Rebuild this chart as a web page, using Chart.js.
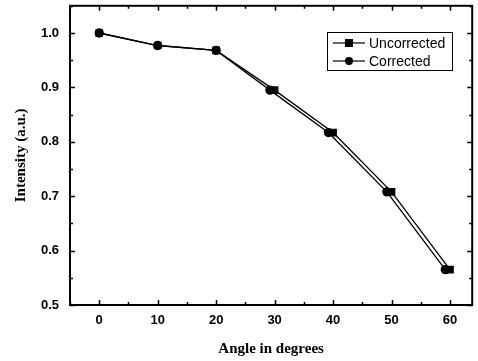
<!DOCTYPE html>
<html>
<head>
<meta charset="utf-8">
<script src="https://cdn.jsdelivr.net/npm/chart.js@4"></script>
<style>
  html, body { margin: 0; padding: 0; background: #fff; }
  #wrap { width: 478px; height: 361px; }
</style>
</head>
<body>
<div id="wrap"><canvas id="chart" width="478" height="361"></canvas></div>
<script>
// values
const angles = [0, 10, 20, 30, 40, 50, 60];
const uncorrected = [1.0, 0.977, 0.968, 0.895, 0.817, 0.708, 0.565];
const correctedAngles = [0, 10, 20, 29.2, 39.2, 49.2, 59.2];
const corrected = [1.0, 0.977, 0.968, 0.895, 0.817, 0.708, 0.565];
const seriesNames = ["Uncorrected", "Corrected"];

const toPoints = (xs, ys) => xs.map((x, i) => ({ x: x, y: ys[i] }));

// frame + inward ticks on all four sides, minor ticks halfway
const framePlugin = {
    id: "frame",
    afterDraw(chart) {
        const ctx = chart.ctx;
        const a = chart.chartArea;
        const xs = chart.scales.x, ys = chart.scales.y;
        ctx.save();
        ctx.strokeStyle = "#000";
        ctx.lineWidth = 1.5;
        for (let v = -5; v <= 63.8; v += 5) {
            const px = Math.round(xs.getPixelForValue(v)) + 0.5;
            const len = v % 10 === 0 ? 5 : 3;
            ctx.beginPath();
            ctx.moveTo(px, a.bottom); ctx.lineTo(px, a.bottom - len);
            ctx.moveTo(px, a.top); ctx.lineTo(px, a.top + len);
            ctx.stroke();
        }
        for (let i = 0; i <= 11; i++) {
            const v = 0.5 + i * 0.05;
            const py = Math.round(ys.getPixelForValue(v)) + 0.5;
            const len = i % 2 === 0 ? 5 : 3;
            ctx.beginPath();
            ctx.moveTo(a.left, py); ctx.lineTo(a.left + len, py);
            ctx.moveTo(a.right, py); ctx.lineTo(a.right - len, py);
            ctx.stroke();
        }
        ctx.lineWidth = 2;
        ctx.strokeRect(a.left, a.top, a.right - a.left, a.bottom - a.top);

        // legend box
        const bx = 327, by = 32, bw = 125, bh = 38;
        ctx.lineWidth = 1;
        ctx.strokeRect(bx + 0.5, by + 0.5, bw, bh);
        ctx.font = "14px 'Liberation Sans', Arial, sans-serif";
        ctx.textBaseline = "middle";
        ctx.fillStyle = "#000";
        [43, 61].forEach((ly, i) => {
            ctx.lineWidth = 1.2;
            ctx.beginPath();
            ctx.moveTo(333, ly); ctx.lineTo(365, ly);
            ctx.stroke();
            if (i === 0) {
                ctx.fillRect(345, ly - 4, 8, 8);
            } else {
                ctx.beginPath();
                ctx.arc(349, ly, 4, 0, Math.PI * 2);
                ctx.fill();
            }
            ctx.fillText(seriesNames[i], 369, ly + 1);
        });
        ctx.restore();
    }
};

new Chart(document.getElementById("chart"), {
    type: "scatter",
    data: {
        datasets: [
            {
                label: seriesNames[1],
                data: toPoints(correctedAngles, corrected),
                showLine: true,
                borderColor: "#000",
                backgroundColor: "#000",
                borderWidth: 1.3,
                pointStyle: "circle",
                pointRadius: 4,
                pointHoverRadius: 4
            },
            {
                label: seriesNames[0],
                data: toPoints(angles, uncorrected),
                showLine: true,
                borderColor: "#000",
                backgroundColor: "#000",
                borderWidth: 1.3,
                pointStyle: "rect",
                pointRadius: 4.5,
                pointHoverRadius: 4.5
            }
        ]
    },
    options: {
        responsive: false,
        animation: false,
        layout: { padding: { top: 3, right: 5, left: 0, bottom: 0 } },
        plugins: { legend: { display: false }, tooltip: { enabled: false } },
        scales: {
            x: {
                type: "linear",
                min: -5,
                max: 63.8,
                grid: { display: false, drawTicks: false },
                border: { display: false },
                ticks: {
                    stepSize: 10,
                    includeBounds: false,
                    padding: 8,
                    color: "#000",
                    font: { family: "'Liberation Sans', Arial, sans-serif", size: 13, weight: "bold" }
                },
                title: {
                    display: true,
                    text: "Angle in degrees",
                    color: "#000",
                    padding: 3,
                    font: { family: "'Liberation Serif', 'Times New Roman', serif", size: 15, weight: "bold" }
                },
                afterFit(scale) {
                    scale.height = 56;
                    scale.paddingLeft = 0;
                    scale.paddingRight = 0;
                }
            },
            y: {
                min: 0.5,
                max: 1.05,
                grid: { display: false, drawTicks: false },
                border: { display: false },
                ticks: {
                    stepSize: 0.1,
                    includeBounds: false,
                    padding: 11,
                    color: "#000",
                    font: { family: "'Liberation Sans', Arial, sans-serif", size: 13, weight: "bold" },
                    callback: (v) => v.toFixed(1)
                },
                title: {
                    display: true,
                    text: "Intensity (a.u.)",
                    color: "#000",
                    padding: 12,
                    font: { family: "'Liberation Serif', 'Times New Roman', serif", size: 15, weight: "bold" }
                },
                afterFit(scale) {
                    scale.width = 70;
                    scale.paddingTop = 0;
                    scale.paddingBottom = 0;
                }
            }
        }
    },
    plugins: [framePlugin]
});
</script>
</body>
</html>
